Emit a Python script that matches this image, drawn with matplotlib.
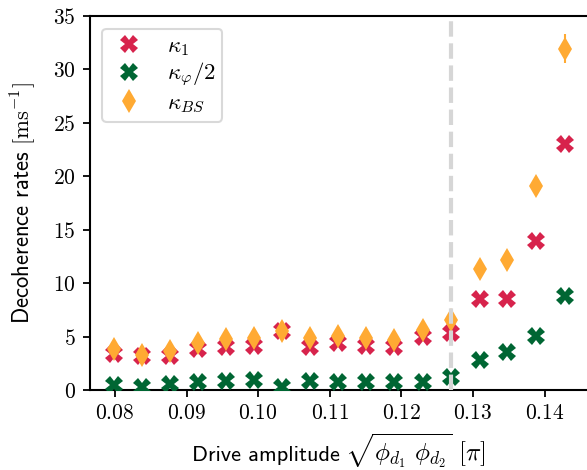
import matplotlib
matplotlib.use("Agg")
import matplotlib.pyplot as plt
from matplotlib.ticker import FormatStrFormatter, MultipleLocator
from matplotlib.offsetbox import TextArea, HPacker, AnchoredOffsetbox

plt.rcParams['mathtext.fontset'] = 'cm'
plt.rcParams['font.family'] = ['cmss10', 'DejaVu Sans']
plt.rcParams['axes.unicode_minus'] = False

# drive amplitude sqrt(phi_d1 * phi_d2) in units of pi
amp = [0.0799, 0.0838, 0.0877, 0.0916, 0.0955, 0.0994, 0.1033, 0.1073, 0.1112,
       0.1151, 0.1190, 0.1230, 0.1269, 0.1309, 0.1348, 0.1388, 0.1428]

# decoherence rates in 1/ms
kappa_1 = [3.4, 3.2, 3.2, 3.85, 4.0, 4.15, 5.55, 4.0, 4.4,
           4.15, 4.0, 5.0, 5.35, 8.5, 8.5, 13.95, 23.0]
kappa_phi_half = [0.5, 0.33, 0.55, 0.73, 0.88, 0.95, 0.27, 0.88, 0.73,
                  0.73, 0.73, 0.73, 1.2, 2.85, 3.6, 5.05, 8.85]
kappa_bs = [3.8, 3.3, 3.65, 4.45, 4.75, 4.9, 5.5, 4.9, 5.1,
            4.9, 4.65, 5.6, 6.6, 11.35, 12.2, 19.05, 31.95]
kappa_bs_err = [0.3, 0.4, 0.3, 0.3, 0.3, 0.3, 0.4, 0.3, 0.3,
                0.3, 0.3, 0.3, 0.4, 0.5, 0.5, 0.6, 1.35]

# onset of the unstable region
threshold = 0.1269

RED = '#d7234c'
GREEN = '#006633'
ORANGE = '#ffaa33'

fig = plt.figure(figsize=(5.87, 4.70), dpi=100)
ax = fig.add_axes([0.153, 0.170, 0.847, 0.796])

ax.errorbar(amp, kappa_bs, yerr=kappa_bs_err, fmt='none', ecolor=ORANGE,
            elinewidth=1.5, zorder=2)
ax.plot(amp, kappa_1, 'X', color=RED, ms=12.5, mew=0, label=r'$\kappa_1$', zorder=3)
ax.plot(amp, kappa_phi_half, 'X', color=GREEN, ms=12.5, mew=0,
        label=r'$\kappa_\varphi/2$', zorder=3)
ax.plot(amp, kappa_bs, 'd', color=ORANGE, ms=12.5, mew=0, label=r'$\kappa_{BS}$', zorder=4)

ax.axvline(threshold, color='#d6d6d6', ls='--', lw=3, zorder=5)

ax.set_xlim(0.0765, 0.1459)
ax.set_ylim(0, 35)
ax.xaxis.set_major_locator(MultipleLocator(0.01))
ax.yaxis.set_major_locator(MultipleLocator(5))
ax.xaxis.set_major_formatter(FormatStrFormatter('$%.2f$'))
ax.yaxis.set_major_formatter(FormatStrFormatter('$%d$'))
ax.tick_params(direction='out', length=5, width=1.3, labelsize=15.5, pad=5)

for side in ['left', 'bottom', 'top']:
    ax.spines[side].set_linewidth(1.5)
ax.spines['right'].set_visible(False)

# x label: sans text followed by a larger math part, packed on one baseline
xlab = HPacker(children=[TextArea('Drive amplitude', textprops=dict(size=16)),
                         TextArea(r'$\sqrt{\phi_{d_1}\ \phi_{d_2}}\ [\pi]$',
                                  textprops=dict(size=18))],
               align='baseline', pad=0, sep=4)
fig.add_artist(AnchoredOffsetbox(loc='center', child=xlab, frameon=False, pad=0,
                                 bbox_to_anchor=(0.577, 0.040),
                                 bbox_transform=fig.transFigure, borderpad=0))

ax.set_ylabel(r'Decoherence rates $[\mathrm{ms}^{-1}]$', fontsize=16.3, labelpad=11)

leg = ax.legend(loc='upper left', fontsize=16.5, handletextpad=0.8, borderpad=0.3,
                labelspacing=0.12, handlelength=1.7, borderaxespad=0.55,
                fancybox=True, framealpha=1.0)
leg.get_frame().set_edgecolor('#d9d9d9')
leg.get_frame().set_linewidth(1.5)

fig.savefig('out.png', dpi=100)
